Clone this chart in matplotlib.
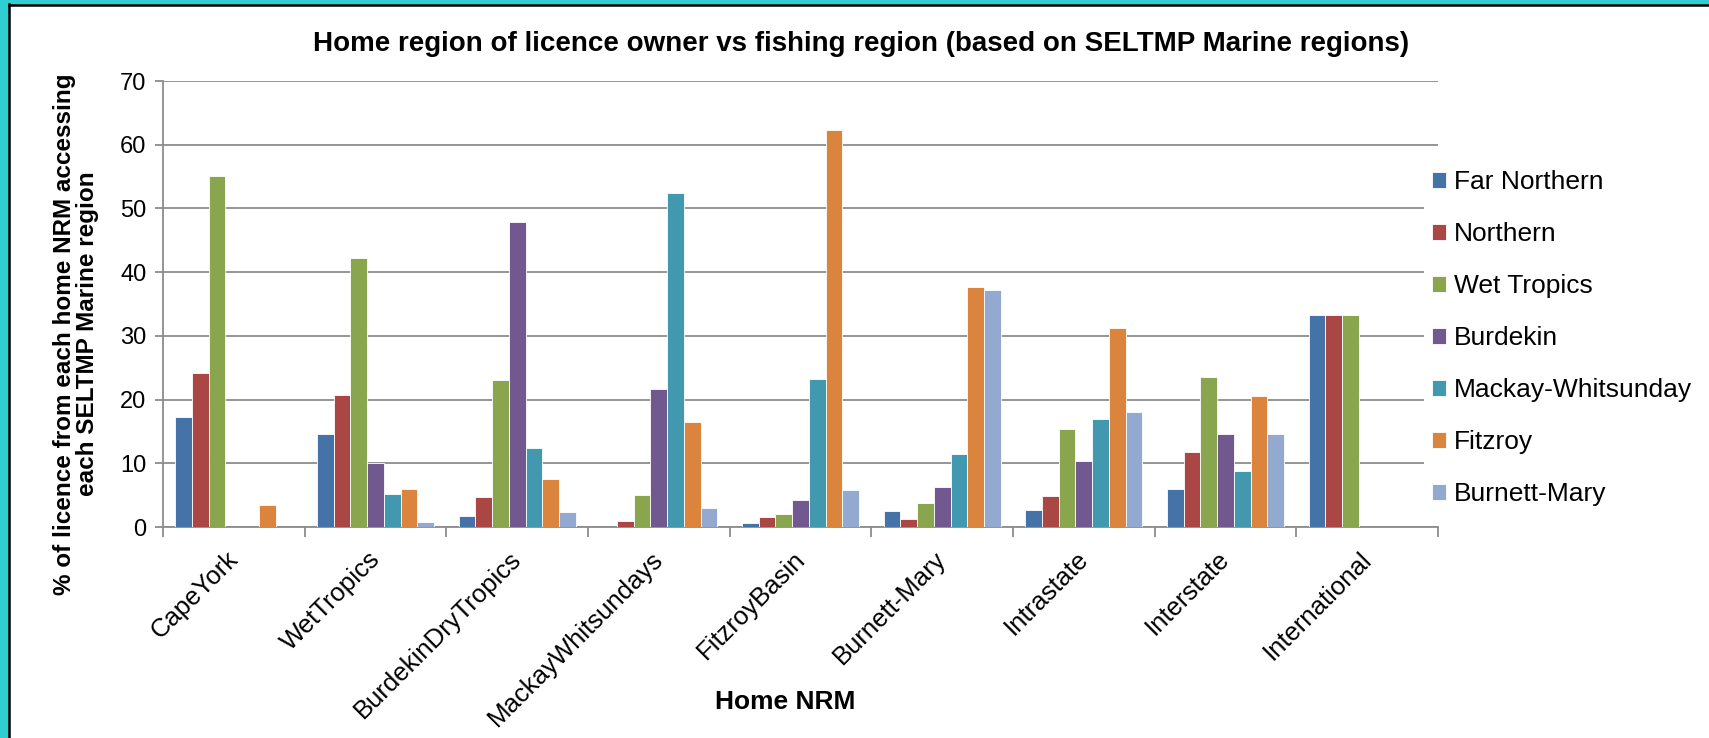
import matplotlib
matplotlib.use("Agg")
import matplotlib.pyplot as plt
import matplotlib.transforms as mtransforms
from matplotlib.patches import Rectangle
from matplotlib.lines import Line2D
import numpy as np

plt.rcParams["font.family"] = ["Liberation Sans", "DejaVu Sans"]

# ── Data ─────────────────────────────────────────────────────────────────────
home_nrm = ["CapeYork", "WetTropics", "BurdekinDryTropics", "MackayWhitsundays",
            "FitzroyBasin", "Burnett-Mary", "Intrastate", "Interstate", "International"]

far_northern = [17.3, 14.6, 1.7, 0.0, 0.7, 2.5, 2.7, 5.9, 33.3]
northern = [24.2, 20.7, 4.7, 1.0, 1.5, 1.2, 4.9, 11.7, 33.3]
wet_tropics = [55.1, 42.2, 23.0, 5.1, 2.1, 3.8, 15.4, 23.5, 33.3]
burdekin = [0.0, 10.1, 47.9, 21.6, 4.3, 6.3, 10.4, 14.6, 0.0]
mackay_whitsunday = [0.0, 5.2, 12.4, 52.5, 23.2, 11.4, 17.0, 8.8, 0.0]
fitzroy = [3.4, 6.0, 7.6, 16.5, 62.3, 37.6, 31.3, 20.6, 0.0]
burnett_mary = [0.0, 0.8, 2.4, 3.0, 5.8, 37.2, 18.1, 14.6, 0.0]

series_names = ["Far Northern", "Northern", "Wet Tropics", "Burdekin",
                "Mackay-Whitsunday", "Fitzroy", "Burnett-Mary"]
series = [far_northern, northern, wet_tropics, burdekin,
          mackay_whitsunday, fitzroy, burnett_mary]
colors = ["#4572A7", "#AA4643", "#89A54E", "#71588F", "#4198AF", "#DB843D", "#93A9CF"]

# ── Figure ───────────────────────────────────────────────────────────────────
W, H = 1709, 738
fig = plt.figure(figsize=(W / 100, H / 100), dpi=100)


def fx(px):
    return px / W


def fy(py):
    return 1 - py / H


ax_l, ax_r, ax_t, ax_b = 163, 1438, 81, 527
ax = fig.add_axes([fx(ax_l), fy(ax_b), fx(ax_r - ax_l), fy(ax_t) - fy(ax_b)])

x = np.arange(len(home_nrm))
n = len(series)
bw = 0.824 / n
for i, (vals, name, c) in enumerate(zip(series, series_names, colors)):
    ax.bar(x - 0.412 + bw * (i + 0.5), vals, width=bw, color=c, label=name,
           edgecolor="white", linewidth=0.6, zorder=3)

ax.set_xlim(-0.5, len(home_nrm) - 0.5)
ax.set_ylim(0, 70)
ax.set_yticks(range(0, 71, 10))
ax.yaxis.grid(True, color="#8c8c8c", linewidth=1.3, zorder=0)
ax.set_axisbelow(True)

for s in ["top", "right"]:
    ax.spines[s].set_visible(False)
for s in ["left", "bottom"]:
    ax.spines[s].set_color("#8c8c8c")
    ax.spines[s].set_linewidth(1.3)

# category boundaries get the tick marks, names sit under the group centres
ax.set_xticks(np.arange(-0.5, len(home_nrm), 1.0))
ax.set_xticklabels([])
ax.tick_params(axis="x", length=7, color="#8c8c8c", width=1.3)
ax.tick_params(axis="y", length=6, color="#8c8c8c", width=1.3, labelsize=17, pad=6)

lab_tr = mtransforms.offset_copy(ax.get_xaxis_transform(), fig=fig, x=-8, y=-20, units="dots")
for xi, name in zip(x, home_nrm):
    ax.text(xi, 0, name, transform=lab_tr, rotation=45, ha="right", va="top",
            rotation_mode="anchor", fontsize=18.5)

fig.text(fx(861), fy(44), "Home region of licence owner vs fishing region (based on SELTMP Marine regions)",
         ha="center", va="center", fontsize=20, fontweight="bold")
fig.text(fx(785), fy(702), "Home NRM", ha="center", va="center", fontsize=19, fontweight="bold")
fig.text(fx(76), fy(334), "% of licence from each home NRM accessing\neach SELTMP Marine region",
         ha="center", va="center", rotation=90, fontsize=17.5, fontweight="bold", linespacing=1.05)

leg = fig.legend(loc="center left", bbox_to_anchor=(fx(1424), fy(338)), frameon=True,
                 fontsize=19, handlelength=0.55, handleheight=0.55, handletextpad=0.3,
                 labelspacing=1.06, borderpad=0.3, borderaxespad=0)
leg.get_frame().set_facecolor("white")
leg.get_frame().set_edgecolor("none")
leg.get_frame().set_alpha(1)

# cyan frame and black rule from the source screenshot (left and top only)
fig.add_artist(Rectangle((0, 0), fx(8), 1, transform=fig.transFigure,
                         color="#2ECED3", zorder=10))
fig.add_artist(Rectangle((0, fy(4)), 1, 4 / H, transform=fig.transFigure,
                         color="#2ECED3", zorder=10))
fig.add_artist(Line2D([fx(9.3), fx(9.3)], [0, fy(4)], transform=fig.transFigure,
                      color="black", linewidth=1.8, zorder=11))
fig.add_artist(Line2D([fx(9.3), 1], [fy(5.3), fy(5.3)], transform=fig.transFigure,
                      color="black", linewidth=1.8, zorder=11))

fig.savefig("out.png", dpi=100)
